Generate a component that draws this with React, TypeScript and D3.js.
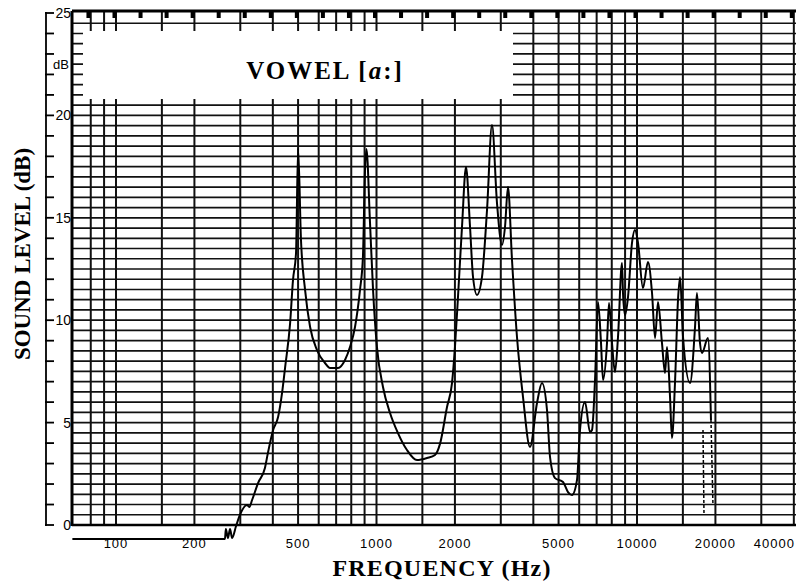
import React from 'react';
import * as d3 from 'd3';

// ---- data ----
const freqHz = [
  68, 262, 264, 269, 274, 279, 289, 299, 318, 325, 333, 351, 373, 383, 401, 419, 434, 446, 466, 478, 491, 500,
  513, 532, 556, 591, 634, 663, 712, 757, 791, 827, 864, 887, 903, 915, 944, 970, 1004, 1059, 1127, 1209,
  1309, 1430, 1563, 1677, 1753, 1865, 1949, 2001, 2055, 2129, 2206, 2286, 2347, 2431, 2541, 2656, 2776,
  2901, 3032, 3114, 3197, 3313, 3462, 3651, 3884, 4132, 4318, 4513, 4636, 4845, 5199, 5434, 5630, 5885,
  6042, 6316, 6601, 6719, 6900, 7085, 7275, 7405, 7671, 7808, 8017, 8232, 8454, 8757, 8835, 8994, 9236,
  9568, 9824, 10090, 10540, 11020, 11420, 11730, 12040, 12470, 12810, 13040, 13390, 13620, 13990, 14370,
  14630, 15020, 15980, 16700, 16990, 17450, 17760, 18730, 19230,
];
const levelDb = [
  -0.68, -0.68, -0.2, -0.63, -0.2, -0.63, -0.05, 0.49, 0.98, 0.88, 1.22, 2.05, 2.78, 3.52, 4.64, 5.27, 6.45, 7.71, 9.86, 11.96, 13.28, 18.4,
  13.92, 11.47, 9.67, 8.54, 7.91, 7.67, 7.67, 8.06, 8.69, 9.67, 11.47, 13.09, 17.24, 18.36, 14.79, 11.47, 8.69, 6.74, 5.47, 4.49,
  3.66, 3.17, 3.27, 3.42, 3.96, 5.76, 6.93, 8.69, 11.13, 14.55, 17.48, 14.55, 12.11, 11.23, 12.11, 15.38, 19.53,
  15.72, 13.67, 14.55, 16.5, 12.93, 9.18, 6.25, 3.81, 5.96, 6.93, 5.62, 3.32, 2.29, 2.1, 1.61, 1.46, 2.2,
  4.64, 6.0, 4.54, 4.64, 7.08, 10.89, 8.89, 7.08, 8.89, 10.84, 8.89, 7.47, 9.18, 12.79, 11.33, 10.25, 11.13,
  13.77, 14.4, 13.77, 11.57, 12.84, 11.33, 9.13, 10.89, 8.89, 7.42, 8.69, 6.25, 4.25, 6.93, 11.0,
  12.1, 9.18, 6.93, 9.67, 11.33, 8.89, 8.4, 9.13, 5.13,
];
// dashed pen tails at the end of the trace
const tailAFreq = [19230, 19570];
const tailADb = [5.13, 0.98];
const tailBFreq = [17920, 18080];
const tailBDb = [4.64, 0.49];

const gridFreqs = [80, 90, 100, 150, 200, 300, 400, 500, 600, 700, 800, 900, 1000, 1500, 2000, 3000, 4000, 5000,
  6000, 7000, 8000, 9000, 10000, 15000, 20000, 30000, 40000];
const xTickLabels = [100, 200, 500, 1000, 2000, 5000, 10000, 20000, 40000];
const yTickLabels = [0, 5, 10, 15, 20, 25];
const yGridStep = 0.5;
const yMinorStep = 1;
const titleText = 'VOWEL';
const xTitle = 'FREQUENCY (Hz)';
const yTitle = 'SOUND LEVEL (dB)';

export default function App() {
  const W = 796;
  const H = 582;
  const plotLeft = 72;
  const plotRight = 796;
  const xs = d3.scaleLog().domain([100, 10000]).range([116, 637]);
  const ys = d3.scaleLinear().domain([0, 25]).range([525, 13]);
  const top = 11;
  const bottom = ys(0);

  const hLines = d3.range(0, 25, yGridStep);
  const minorTicks = d3.range(0, 25 + 0.001, yMinorStep);
  const tabs = d3.range(19, 47).map((k) => Math.pow(10, k / 10));

  const line = d3
    .line<number>()
    .x((_, i) => xs(freqHz[i]))
    .y((d) => ys(d))
    .curve(d3.curveMonotoneX);
  const tailA = d3.line<number>().x((_, i) => xs(tailAFreq[i])).y((d) => ys(d));
  const tailB = d3.line<number>().x((_, i) => xs(tailBFreq[i])).y((d) => ys(d));

  const sans = '"Liberation Sans", Arial, sans-serif';
  const serif = '"Liberation Serif", "Times New Roman", serif';

  return (
    <svg
      width={W}
      height={H}
      viewBox={`0 0 ${W} ${H}`}
      style={{ position: 'absolute', left: 0, top: 0, background: '#fff' }}
    >
      <rect x={0} y={0} width={W} height={H} fill="#fff" />
      {/* horizontal grid */}
      {hLines.map((v) => (
        <line key={'h' + v} x1={plotLeft} x2={plotRight} y1={ys(v)} y2={ys(v)} stroke="#111" strokeWidth={1.7} />
      ))}
      {/* vertical grid */}
      {gridFreqs.map((f) => (
        <line key={'v' + f} x1={xs(f)} x2={xs(f)} y1={top} y2={bottom} stroke="#111" strokeWidth={2} />
      ))}
      {/* white title box */}
      <rect x={83} y={31} width={430} height={68} fill="#fff" />
      <text
        x={325}
        y={79}
        textAnchor="middle"
        fontFamily={serif}
        fontWeight="bold"
        fontSize={25}
        letterSpacing={2}
        fill="#000"
      >
        {titleText + ' ['}
        <tspan fontStyle="italic">a</tspan>
        {':]'}
      </text>
      {/* frame */}
      <line x1={plotLeft} x2={plotRight} y1={top} y2={top} stroke="#000" strokeWidth={3} />
      <line x1={plotLeft} x2={plotRight} y1={bottom} y2={bottom} stroke="#000" strokeWidth={2.5} />
      <line x1={plotLeft} x2={plotLeft} y1={top} y2={bottom + 1} stroke="#000" strokeWidth={3} />
      {/* top tabs */}
      {tabs.map((f, i) => (
        <rect key={'t' + i} x={xs(f) - 3.5} y={top} width={4} height={7} fill="#000" />
      ))}
      {/* left ruler axis */}
      <line x1={46} x2={46} y1={ys(25) - 1} y2={bottom + 1} stroke="#000" strokeWidth={1.8} />
      {minorTicks.map((v) => (
        <line key={'m' + v} x1={45} x2={54} y1={ys(v)} y2={ys(v)} stroke="#000" strokeWidth={1.8} />
      ))}
      {yTickLabels.map((v) => (
        <text key={'yl' + v} x={71} y={ys(v) + 5} textAnchor="end" fontFamily={sans} fontSize={14} fill="#000">
          {v}
        </text>
      ))}
      <text x={69} y={ys(22.5) + 5} textAnchor="end" fontFamily={sans} fontSize={13} fill="#000">
        dB
      </text>
      {/* x tick labels */}
      {xTickLabels.map((f) => {
        const px = xs(f);
        const atEdge = px + 22 > W;
        return (
          <text
            key={'xl' + f}
            x={atEdge ? W - 1 : px}
            y={548}
            textAnchor={atEdge ? 'end' : 'middle'}
            fontFamily={sans}
            fontSize={13}
            letterSpacing={1}
            fill="#000"
          >
            {f}
          </text>
        );
      })}
      {/* spectrum trace */}
      <path d={line(levelDb) || ''} fill="none" stroke="#000" strokeWidth={2} strokeLinejoin="round" />
      <path d={tailA(tailADb) || ''} fill="none" stroke="#000" strokeWidth={1.5} strokeDasharray="3,2" />
      <path d={tailB(tailBDb) || ''} fill="none" stroke="#000" strokeWidth={1.5} strokeDasharray="3,2" />
      {/* axis titles */}
      <text
        x={442}
        y={576}
        textAnchor="middle"
        fontFamily={serif}
        fontWeight="bold"
        fontSize={24}
        letterSpacing={1.2}
        fill="#000"
      >
        {xTitle}
      </text>
      <text
        transform={`translate(30, 254) rotate(-90)`}
        textAnchor="middle"
        fontFamily={serif}
        fontWeight="bold"
        fontSize={23}
        fill="#000"
      >
        {yTitle}
      </text>
    </svg>
  );
}
